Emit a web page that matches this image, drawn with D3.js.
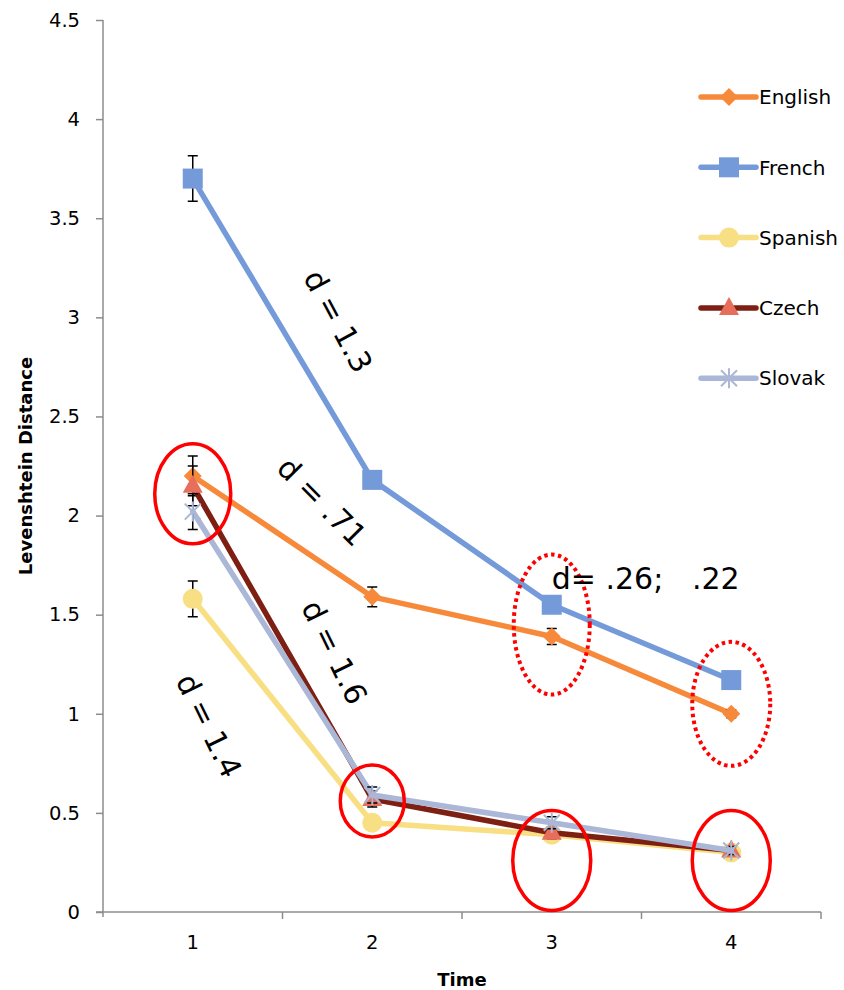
<!DOCTYPE html>
<html>
<head>
<meta charset="utf-8">
<script src="https://cdn.jsdelivr.net/npm/d3@7"></script>
<style>
  body { margin: 0; background: #fff; }
  svg text { font-family: "DejaVu Sans", sans-serif; }
</style>
</head>
<body>
<div id="chart"></div>
<script>
const times = [1, 2, 3, 4];
const yTicks = [0, 0.5, 1, 1.5, 2, 2.5, 3, 3.5, 4, 4.5];

const english = [2.20, 1.59, 1.39, 1.00];
const french = [3.70, 2.18, 1.55, 1.17];
const spanish = [1.58, 0.45, 0.39, 0.30];
const czech = [2.15, 0.57, 0.40, 0.31];
const slovak = [2.02, 0.59, 0.45, 0.31];

const englishErr = [0.10, 0.05, 0.04, 0.02];
const frenchErr = [0.115, 0.04, 0.03, 0.02];
const spanishErr = [0.09, 0.03, 0.02, 0.02];
const czechErr = [0.10, 0.04, 0.03, 0.02];
const slovakErr = [0.09, 0.04, 0.03, 0.02];

const seriesNames = ["English", "French", "Spanish", "Czech", "Slovak"];

// effect size labels, anchored at (time, value)
const effectLabels = [
  { text: "d = 1.3", t: 1.81, v: 2.98, angle: 62 },
  { text: "d = .71", t: 1.72, v: 2.07, angle: 45 },
  { text: "d = 1.6", t: 1.79, v: 1.31, angle: 64 },
  { text: "d = 1.4", t: 1.09, v: 0.94, angle: 64 },
  { text: "d= .26;   .22", t: 3.0, v: 1.68, angle: 0 }
];

// highlight circles, centered at (time, value)
const highlights = [
  { t: 1, v: 2.11, rx: 38, ry: 50, dotted: false },
  { t: 2, v: 0.56, rx: 32, ry: 36, dotted: false },
  { t: 3, v: 0.26, rx: 39, ry: 50, dotted: false },
  { t: 4, v: 0.26, rx: 39, ry: 50, dotted: false },
  { t: 3, v: 1.45, rx: 38, ry: 70, dotted: true },
  { t: 4, v: 1.05, rx: 39, ry: 62, dotted: true }
];

const width = 844, height = 990;
const margin = { top: 20, right: 23, bottom: 78, left: 103 };

const svg = d3.select("#chart")
  .append("svg")
  .attr("width", width)
  .attr("height", height);

const x = d3.scaleBand()
  .domain(times)
  .range([margin.left, width - margin.right]);

const y = d3.scaleLinear()
  .domain([0, 4.5])
  .range([height - margin.bottom, margin.top]);

const cx = t => x(Math.floor(t)) + x.bandwidth() / 2 + (t - Math.floor(t)) * x.step();

const axisColor = "#8c8c8c";

// y axis
const yAxis = svg.append("g")
  .attr("transform", `translate(${margin.left},0)`)
  .call(d3.axisLeft(y).tickValues(yTicks).tickSize(7).tickPadding(16).tickFormat(d3.format("")));
yAxis.select(".domain").attr("stroke", axisColor).attr("stroke-width", 1.5)
  .attr("d", `M0,${y(4.5)}V${y(0) + 5}`);
yAxis.selectAll(".tick line").attr("stroke", axisColor).attr("stroke-width", 1.5);
yAxis.selectAll(".tick text")
  .style("font-size", "19.5px")
  .attr("fill", "#000");

// x axis
const xAxis = svg.append("g")
  .attr("transform", `translate(0,${y(0)})`)
  .call(d3.axisBottom(x).tickSize(0).tickPadding(23));
xAxis.select(".domain").attr("stroke", axisColor).attr("stroke-width", 1.5)
  .attr("d", `M${margin.left - 7},0H${width - margin.right}`);
xAxis.selectAll(".tick text").style("font-size", "19.5px").attr("fill", "#000");
xAxis.selectAll(".sep")
  .data(times)
  .enter()
  .append("line")
  .attr("x1", d => x(d) + x.bandwidth())
  .attr("x2", d => x(d) + x.bandwidth())
  .attr("y1", 0)
  .attr("y2", 7)
  .attr("stroke", axisColor)
  .attr("stroke-width", 1.5);

svg.append("text")
  .attr("transform", `translate(32,${(y(0) + y(4.5)) / 2}) rotate(-90)`)
  .attr("text-anchor", "middle")
  .style("font-weight", "bold")
  .style("font-size", "18px")
  .text("Levenshtein Distance");

svg.append("text")
  .attr("x", (margin.left + width - margin.right) / 2)
  .attr("y", 986)
  .attr("text-anchor", "middle")
  .style("font-weight", "bold")
  .style("font-size", "18px")
  .text("Time");

// series
const series = [
  { name: seriesNames[0], values: english, err: englishErr, line: "#f7893a", fill: "#f7893a", marker: "diamond" },
  { name: seriesNames[1], values: french, err: frenchErr, line: "#759ad9", fill: "#759ad9", marker: "square" },
  { name: seriesNames[2], values: spanish, err: spanishErr, line: "#f8df83", fill: "#f8df83", marker: "circle" },
  { name: seriesNames[3], values: czech, err: czechErr, line: "#7d1f12", fill: "#e86e5c", marker: "triangle" },
  { name: seriesNames[4], values: slovak, err: slovakErr, line: "#abb7d6", fill: "#abb7d6", marker: "star" }
];

function drawMarker(g, type, s, px, py) {
  if (type === "diamond") {
    g.append("path")
      .attr("d", `M${px},${py - 9}L${px + 9},${py}L${px},${py + 9}L${px - 9},${py}Z`)
      .attr("fill", s.fill);
  } else if (type === "square") {
    g.append("rect")
      .attr("x", px - 10).attr("y", py - 10)
      .attr("width", 20).attr("height", 20)
      .attr("fill", s.fill);
  } else if (type === "circle") {
    g.append("circle")
      .attr("cx", px).attr("cy", py).attr("r", 10)
      .attr("fill", s.fill);
  } else if (type === "triangle") {
    g.append("path")
      .attr("d", `M${px},${py - 11}L${px + 10},${py + 7}L${px - 10},${py + 7}Z`)
      .attr("fill", s.fill);
  } else if (type === "star") {
    g.append("path")
      .attr("d", `M${px - 8},${py - 8}L${px + 8},${py + 8}M${px + 8},${py - 8}L${px - 8},${py + 8}M${px},${py - 10}L${px},${py + 10}`)
      .attr("stroke", s.fill)
      .attr("stroke-width", 2)
      .attr("fill", "none");
  }
}

const line = d3.line()
  .x((d, i) => x(times[i]) + x.bandwidth() / 2)
  .y(d => y(d));

series.forEach(s => {
  const g = svg.append("g");
  g.append("path")
    .datum(s.values)
    .attr("d", line)
    .attr("fill", "none")
    .attr("stroke", s.line)
    .attr("stroke-width", 5.5)
    .attr("stroke-linejoin", "round")
    .attr("stroke-linecap", "round");

  s.values.forEach((v, i) => {
    const px = x(times[i]) + x.bandwidth() / 2;
    const e = s.err[i];
    g.append("path")
      .attr("d", `M${px},${y(v + e)}V${y(v - e)}M${px - 5},${y(v + e)}H${px + 5}M${px - 5},${y(v - e)}H${px + 5}`)
      .attr("stroke", "#000")
      .attr("stroke-width", 1.5)
      .attr("fill", "none");
  });

  s.values.forEach((v, i) => {
    drawMarker(g, s.marker, s, x(times[i]) + x.bandwidth() / 2, y(v));
  });
});

// legend
const legend = svg.append("g");
series.forEach((s, i) => {
  const ly = 97 + i * 70.3;
  legend.append("line")
    .attr("x1", 701).attr("x2", 756)
    .attr("y1", ly).attr("y2", ly)
    .attr("stroke", s.line)
    .attr("stroke-width", 5.5)
    .attr("stroke-linecap", "round");
  drawMarker(legend, s.marker, s, 729, ly);
  legend.append("text")
    .attr("x", 759)
    .attr("y", ly)
    .attr("dy", "0.36em")
    .style("font-size", "20px")
    .text(s.name);
});

// annotations
svg.selectAll(".hl")
  .data(highlights)
  .enter()
  .append("ellipse")
  .attr("cx", d => cx(d.t))
  .attr("cy", d => y(d.v))
  .attr("rx", d => d.rx)
  .attr("ry", d => d.ry)
  .attr("fill", "none")
  .attr("stroke", "#ff0000")
  .attr("stroke-width", d => d.dotted ? 4 : 3.5)
  .attr("stroke-dasharray", d => d.dotted ? "3.5 3.5" : null);

svg.selectAll(".eff")
  .data(effectLabels)
  .enter()
  .append("text")
  .attr("transform", d => `translate(${cx(d.t)},${y(d.v)}) rotate(${d.angle})`)
  .attr("text-anchor", d => d.angle ? "middle" : "start")
  .attr("dy", "0.35em")
  .style("font-size", "30px")
  .attr("xml:space", "preserve")
  .text(d => d.text);
</script>
</body>
</html>
